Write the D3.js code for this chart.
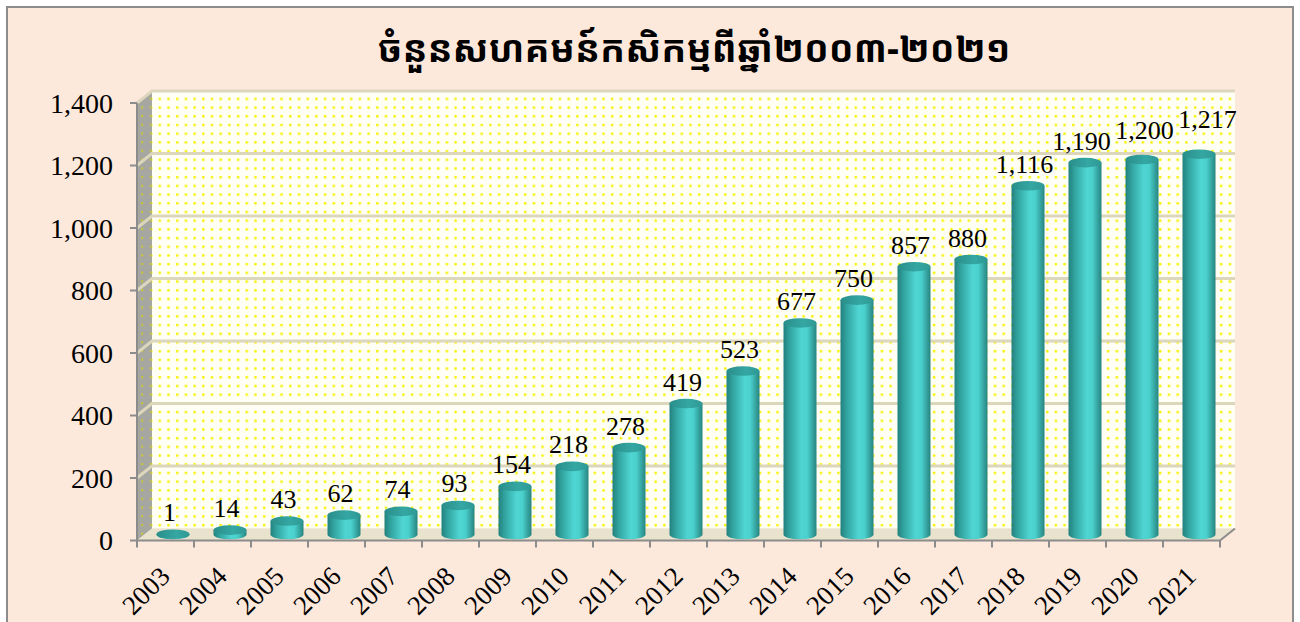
<!DOCTYPE html>
<html>
<head>
<meta charset="utf-8">
<script src="https://cdn.jsdelivr.net/npm/d3@7"></script>
<style>
  body { margin: 0; background: #fff; }
  svg { display: block; }
</style>
</head>
<body>
<div id="chart"></div>
<script>
const title = 'ចំនួនសហគមន៍កសិកម្មពីឆ្នាំ២០០៣-២០២១';
const years = ['2003','2004','2005','2006','2007','2008','2009','2010','2011','2012',
  '2013','2014','2015','2016','2017','2018','2019','2020','2021'];
const counts = [1, 14, 43, 62, 74, 93, 154, 218, 278, 419, 523, 677, 750, 857, 880, 1116, 1190, 1200, 1217];
const yTicks = [0, 200, 400, 600, 800, 1000, 1200, 1400];

const W = 1300, H = 622;
const dx = 15, dy = -12; // depth offset of back wall
const plotL = 137, plotR = 1220, plotB = 540.5, plotT = 103;
const serif = '"Times New Roman", "Liberation Serif", serif';

const svg = d3.select('#chart').append('svg')
  .attr('width', W)
  .attr('height', H);

const defs = svg.append('defs');

// dotted wall fill
const dots = defs.append('pattern')
  .attr('id', 'dots')
  .attr('patternUnits', 'userSpaceOnUse')
  .attr('width', 8.7)
  .attr('height', 8.7);
dots.append('rect').attr('width', 8.7).attr('height', 8.7).attr('fill', '#fffff6');
dots.append('rect').attr('x', 2).attr('y', 2).attr('width', 2.4).attr('height', 2.4).attr('fill', '#f6f200');

const dotsSide = defs.append('pattern')
  .attr('id', 'dotsSide')
  .attr('patternUnits', 'userSpaceOnUse')
  .attr('width', 8.7)
  .attr('height', 8.7);
dotsSide.append('rect').attr('width', 8.7).attr('height', 8.7).attr('fill', '#a7a7a2');
dotsSide.append('rect').attr('x', 2).attr('y', 2).attr('width', 2).attr('height', 2).attr('fill', '#c9c930');

const body = defs.append('linearGradient').attr('id', 'cylBody');
[['0%', '#23807d'], ['18%', '#31a29e'], ['55%', '#4fd6d3'], ['72%', '#4ad1ce'], ['100%', '#27847f']]
  .forEach(([o, c]) => body.append('stop').attr('offset', o).attr('stop-color', c));

const cap = defs.append('linearGradient').attr('id', 'cylTop');
[['0%', '#2a8e8a'], ['60%', '#35a7a3'], ['100%', '#2f9894']]
  .forEach(([o, c]) => cap.append('stop').attr('offset', o).attr('stop-color', c));

// background and border
svg.append('rect')
  .attr('x', 7).attr('y', 7)
  .attr('width', 1286).attr('height', 630)
  .attr('fill', '#fde9dc')
  .attr('stroke', '#8c8c8c')
  .attr('stroke-width', 2);

const x = d3.scaleBand().domain(years).range([plotL, plotR]);
const y = d3.scaleLinear().domain([0, 1400]).range([plotB, plotT]);

// walls and floor
svg.append('rect')
  .attr('x', plotL + dx).attr('y', plotT + dy)
  .attr('width', plotR - plotL).attr('height', plotB - plotT)
  .attr('fill', 'url(#dots)');

svg.append('polygon')
  .attr('points', [[plotL, plotT], [plotL + dx, plotT + dy], [plotL + dx, plotB + dy], [plotL, plotB]].join(' '))
  .attr('fill', 'url(#dotsSide)');

svg.append('polygon')
  .attr('points', [[plotL, plotB], [plotR, plotB], [plotR + dx, plotB + dy], [plotL + dx, plotB + dy]].join(' '))
  .attr('fill', '#e9e2cc');

// gridlines
const grid = svg.append('g')
  .attr('stroke', '#dcd6bd')
  .attr('stroke-width', 3)
  .attr('fill', 'none');
grid.selectAll('path')
  .data(yTicks.filter(d => d > 0))
  .join('path')
  .attr('d', d => `M${plotL},${y(d)}L${plotL + dx},${y(d) + dy}L${plotR + dx},${y(d) + dy}`);

// cylinders
const rx = 16.5, ry = 4.8;
const rows = years.map((yr, i) => ({ year: yr, value: counts[i] }));
const cyl = svg.append('g')
  .selectAll('g')
  .data(rows)
  .join('g');

const cx = d => x(d.year) + x.bandwidth() / 2 + dx / 2;
const baseY = y(0) + dy / 2;
const topY = d => y(d.value) + dy / 2;

cyl.append('path')
  .attr('d', d => `M${cx(d) - rx},${topY(d)}L${cx(d) - rx},${baseY}` +
    `A${rx},${ry} 0 0 0 ${cx(d) + rx},${baseY}L${cx(d) + rx},${topY(d)}Z`)
  .attr('fill', 'url(#cylBody)');

cyl.append('ellipse')
  .attr('cx', cx)
  .attr('cy', topY)
  .attr('rx', rx)
  .attr('ry', ry)
  .attr('fill', 'url(#cylTop)');

// data labels, nudged up/right when they crowd the previous one
const fmt = d3.format(',');
let prev = null, shift = 0;
rows.forEach(d => {
  const w = fmt(d.value).length * 13;
  d.lx = x(d.year) + x.bandwidth() / 2 + 4;
  d.ly = topY(d) - 13;
  if (prev && d.lx - w / 2 < prev.lx + prev.w / 2 && d.ly > prev.ly - 11) {
    shift += 6;
    d.ly = prev.ly - 11;
  }
  d.lx += shift;
  d.w = w;
  prev = d;
});

svg.append('g')
  .selectAll('text')
  .data(rows)
  .join('text')
  .attr('x', d => d.lx)
  .attr('y', d => d.ly)
  .attr('text-anchor', 'middle')
  .attr('font-family', serif)
  .attr('font-size', 26)
  .attr('fill', '#000')
  .text(d => fmt(d.value));

// front axes
const axisColor = '#8c8c8c';
svg.append('path')
  .attr('d', `M${plotL},${plotT}L${plotL},${plotB}L${plotR},${plotB}L${plotR + dx},${plotB + dy}`)
  .attr('fill', 'none')
  .attr('stroke', axisColor)
  .attr('stroke-width', 2);

const yAxis = svg.append('g');
yAxis.selectAll('line')
  .data(yTicks)
  .join('line')
  .attr('x1', plotL - 7).attr('x2', plotL)
  .attr('y1', d => y(d)).attr('y2', d => y(d))
  .attr('stroke', axisColor)
  .attr('stroke-width', 2);
yAxis.selectAll('text')
  .data(yTicks)
  .join('text')
  .attr('x', 113)
  .attr('y', d => y(d))
  .attr('dy', '0.34em')
  .attr('text-anchor', 'end')
  .attr('font-family', serif)
  .attr('font-size', 28)
  .text(d => fmt(d));

const xAxis = svg.append('g');
xAxis.selectAll('line')
  .data(d3.range(years.length + 1))
  .join('line')
  .attr('x1', i => plotL + i * x.step())
  .attr('x2', i => plotL + i * x.step())
  .attr('y1', plotB).attr('y2', plotB + 7)
  .attr('stroke', axisColor)
  .attr('stroke-width', 2);
xAxis.selectAll('text')
  .data(years)
  .join('text')
  .attr('transform', d => `translate(${x(d) + x.bandwidth() / 2 + 6},578) rotate(-45)`)
  .attr('text-anchor', 'end')
  .attr('font-family', serif)
  .attr('font-size', 27)
  .text(d => d);

// title
svg.append('text')
  .attr('x', 694)
  .attr('y', 62)
  .attr('text-anchor', 'middle')
  .attr('font-family', '"Khmer OS Muol Light", "Noto Sans Khmer", "Noto Serif Khmer", "Khmer OS", sans-serif')
  .attr('font-weight', 'bold')
  .attr('font-size', 37)
  .text(title);
</script>
</body>
</html>
